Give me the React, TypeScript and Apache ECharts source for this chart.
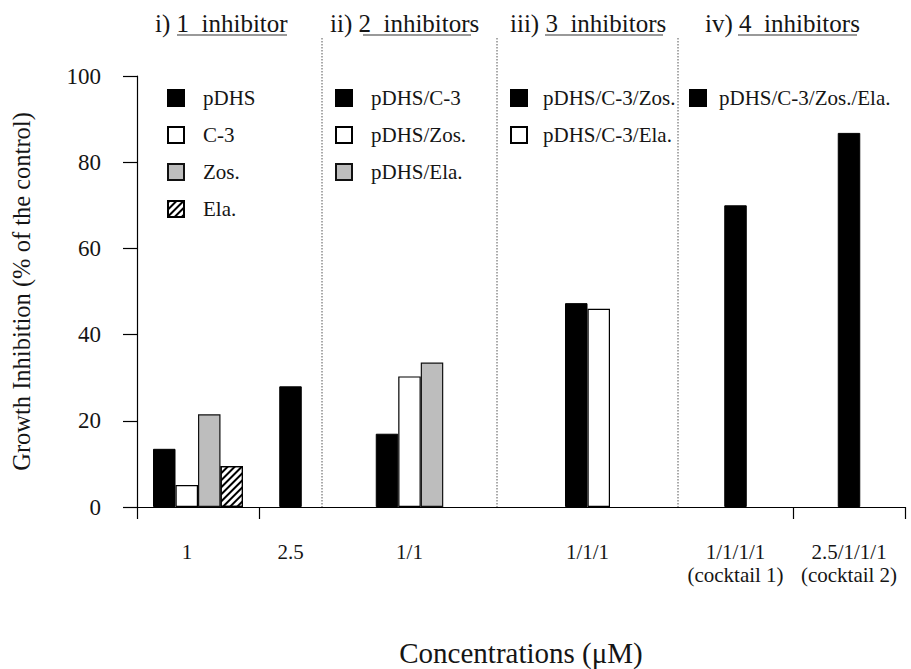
import React, { useEffect, useRef } from "react";
import * as echarts from "echarts";

// ---- data ----
const concentrationLabels = [
  "1",
  "2.5",
  "1/1",
  "1/1/1",
  "1/1/1/1\n(cocktail 1)",
  "2.5/1/1/1\n(cocktail 2)",
];
const singleNames = ["pDHS", "C-3", "Zos.", "Ela."];
const single1uM = [13.5, 5.1, 21.5, 9.5];
const pDHS2_5uM = [28.0];
const pairNames = ["pDHS/C-3", "pDHS/Zos.", "pDHS/Ela."];
const pairValues = [17.0, 30.3, 33.5];
const tripleNames = ["pDHS/C-3/Zos.", "pDHS/C-3/Ela."];
const tripleValues = [47.3, 46.0];
const quadNames = ["pDHS/C-3/Zos./Ela."];
const cocktailValues = [70.0, 86.8];
const sectionTitles = [
  ["i)", "1  inhibitor"],
  ["ii)", "2  inhibitors"],
  ["iii)", "3  inhibitors"],
  ["iv)", "4  inhibitors"],
];
const yMin = 0;
const yMax = 100;
const yInterval = 20;
const yTitle = "Growth Inhibition (% of the control)";
const xTitle = "Concentrations (\u03bcM)";

// ---- layout / style ----
const FONT = "'Liberation Serif', 'Times New Roman', serif";
const TXT = "#151515";
const W = 911;
const H = 669;
const gridEdges = [137, 259, 322, 497, 678, 793, 905];
const gridTop = 76;
const gridBottomY = 507;
const separators = [322, 497, 678];
const titlePos = [
  { x: 155, ux: [177, 287] },
  { x: 330, ux: [363, 471] },
  { x: 510, ux: [545, 663] },
  { x: 705, ux: [738, 857] },
];
const legendPos = [
  { left: 167, top: 87, pad: 14 },
  { left: 335, top: 87, pad: 14 },
  { left: 510, top: 87, pad: 11 },
  { left: 689, top: 87, pad: 8 },
];

const hatch = {
  symbol: "rect",
  symbolSize: 1,
  dashArrayX: [1, 0],
  dashArrayY: [2, 3],
  rotation: -Math.PI / 4,
  color: "#000",
  backgroundColor: "#fff",
};

const fillStyles = [
  { color: "#000", borderColor: "#000", borderWidth: 1 },
  { color: "#fff", borderColor: "#000", borderWidth: 1.2 },
  { color: "#bdbdbd", borderColor: "#111", borderWidth: 1.2 },
  { color: "#fff", borderColor: "#000", borderWidth: 1.2, decal: hatch },
];

type Bar = { name: string; value: number; style: number };
const groups: Bar[][] = [
  singleNames.map((n, i) => ({ name: n, value: single1uM[i], style: i })),
  [{ name: singleNames[0], value: pDHS2_5uM[0], style: 0 }],
  pairNames.map((n, i) => ({ name: n, value: pairValues[i], style: i })),
  tripleNames.map((n, i) => ({ name: n, value: tripleValues[i], style: i })),
  [{ name: quadNames[0], value: cocktailValues[0], style: 0 }],
  [{ name: quadNames[0], value: cocktailValues[1], style: 0 }],
];
const legendGroups = [singleNames, pairNames, tripleNames, quadNames];

export default function App() {
  const ref = useRef<HTMLDivElement>(null);
  useEffect(() => {
    document.body.style.margin = "0";
    const chart = echarts.init(ref.current!, null, { renderer: "svg" });

    const grids = groups.map((_, i) => ({
      left: gridEdges[i],
      width: gridEdges[i + 1] - gridEdges[i],
      top: gridTop,
      height: gridBottomY - gridTop,
      containLabel: false,
    }));

    const xAxes = groups.map((_, i) => ({
      type: "category",
      gridIndex: i,
      data: [concentrationLabels[i]],
      axisLine: { show: true, lineStyle: { color: "#000", width: 1.2 } },
      axisTick: { show: i === 0 || i === 5, length: 12, lineStyle: { color: "#000", width: 1.2 } },
      axisLabel: {
        fontFamily: FONT,
        fontSize: 21,
        color: TXT,
        margin: 33,
        lineHeight: 23,
        padding: i === 0 ? [0, 22, 0, 0] : 0,
      },
    }));

    const yAxes = groups.map((_, i) => ({
      type: "value",
      gridIndex: i,
      min: yMin,
      max: yMax,
      interval: yInterval,
      show: i === 0,
      splitLine: { show: false },
      axisLine: { show: true, lineStyle: { color: "#000", width: 1.2 } },
      axisTick: { show: true, length: 14, lineStyle: { color: "#000", width: 1.2 } },
      axisLabel: { fontFamily: FONT, fontSize: 23, color: TXT, margin: 36 },
      name: i === 0 ? yTitle : "",
      nameLocation: "middle",
      nameGap: 103,
      nameTextStyle: { fontFamily: FONT, fontSize: 24.5, color: TXT },
    }));

    const series: any[] = [];
    groups.forEach((g, gi) => {
      g.forEach((b) => {
        series.push({
          type: "bar",
          name: b.name,
          xAxisIndex: gi,
          yAxisIndex: gi,
          data: [b.value],
          barWidth: 22.5,
          barGap: "0%",
          itemStyle: { ...fillStyles[b.style] },
          emphasis: { disabled: true },
        });
      });
    });

    const legends = legendGroups.map((names, i) => ({
      data: names,
      orient: "vertical",
      left: legendPos[i].left,
      top: legendPos[i].top,
      itemWidth: 16,
      itemHeight: 16,
      itemGap: 15,
      icon: "rect",
      selectedMode: false,
      padding: 0,
      textStyle: {
        fontFamily: FONT,
        fontSize: 21,
        color: TXT,
        lineHeight: 22,
        padding: [0, 0, 0, legendPos[i].pad],
      },
    }));

    const graphics: any[] = [];
    separators.forEach((x) => {
      graphics.push({
        type: "line",
        shape: { x1: x, y1: 38, x2: x, y2: gridBottomY },
        style: { stroke: "#555", lineWidth: 1, lineDash: [1.5, 1.5] },
        silent: true,
      });
    });
    sectionTitles.forEach((t, i) => {
      graphics.push({
        type: "text",
        x: titlePos[i].x,
        y: 23,
        style: {
          text: t[0] + " " + t[1],
          fontFamily: FONT,
          fontSize: 25,
          fill: TXT,
          verticalAlign: "middle",
          align: "left",
        },
      });
      graphics.push({
        type: "line",
        shape: { x1: titlePos[i].ux[0], y1: 35, x2: titlePos[i].ux[1], y2: 35 },
        style: { stroke: "#777", lineWidth: 1.3 },
      });
    });
    graphics.push({
      type: "text",
      x: (gridEdges[0] + gridEdges[gridEdges.length - 1]) / 2,
      y: 653,
      style: {
        text: xTitle,
        fontFamily: FONT,
        fontSize: 29,
        fill: TXT,
        align: "center",
        verticalAlign: "middle",
      },
    });

    chart.setOption({
      animation: false,
      backgroundColor: "#fff",
      grid: grids,
      xAxis: xAxes,
      yAxis: yAxes,
      legend: legends,
      series,
      graphic: graphics,
    } as any);

    return () => chart.dispose();
  }, []);
  return (
    <div
      ref={ref}
      style={{ width: W, height: H, position: "absolute", left: 0, top: 0 }}
    />
  );
}
